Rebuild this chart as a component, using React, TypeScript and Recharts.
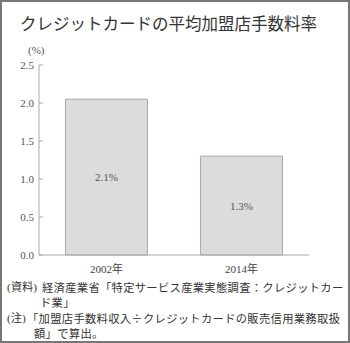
import { BarChart, Bar, XAxis, YAxis, LabelList } from 'recharts'

const years = ['2002年', '2014年']
const rates = [2.05, 1.3]
const rateLabels = ['2.1%', '1.3%']
const yTicks = [0, 0.5, 1.0, 1.5, 2.0, 2.5]

const data = years.map((year, i) => ({ year, rate: rates[i], label: rateLabels[i] }))

const serif = "'Liberation Serif', 'DejaVu Serif', 'Noto Sans CJK JP', serif"
const jpFont = "'Noto Sans CJK JP', sans-serif"

const noteLine = (top: number, left: number, text: string, prefix = false) => (
  <div
    style={{
      position: 'absolute',
      top,
      left,
      fontSize: 11.3,
      lineHeight: '12px',
      fontFamily: prefix ? serif : jpFont,
      letterSpacing: prefix ? 0 : 0.3,
      color: '#333',
      whiteSpace: 'nowrap',
    }}
  >
    {text}
  </div>
)

export default function App() {
  return (
    <div
      style={{
        position: 'absolute',
        top: 0,
        left: 0,
        width: 350,
        height: 343,
        boxSizing: 'border-box',
        border: '2px solid #777',
        background: '#fff',
        overflow: 'hidden',
      }}
    >
      <div
        style={{
          position: 'absolute',
          top: 11,
          left: 18,
          fontSize: 16.5,
          lineHeight: '20px',
          fontFamily: jpFont,
          color: '#333',
          whiteSpace: 'nowrap',
        }}
      >
        クレジットカードの平均加盟店手数料率
      </div>
      <div
        style={{
          position: 'absolute',
          top: 41,
          left: 26,
          fontSize: 11,
          lineHeight: '14px',
          fontFamily: serif,
          color: '#555',
        }}
      >
        (%)
      </div>
      <div style={{ position: 'absolute', top: -2, left: -2 }}>
        <BarChart
          width={350}
          height={290}
          data={data}
          margin={{ top: 65, right: 41, bottom: 5, left: 0 }}
          barCategoryGap="19.6%"
        >
          <XAxis
            dataKey="year"
            axisLine={{ stroke: '#aaa' }}
            tickLine={false}
            tickSize={0}
            tickMargin={10}
            tick={{ fill: '#444', fontSize: 11, fontFamily: serif }}
          />
          <YAxis
            width={39}
            domain={[0, 2.5]}
            ticks={yTicks}
            tickFormatter={(v: number) => v.toFixed(1)}
            axisLine={{ stroke: '#aaa' }}
            tickLine={{ stroke: '#aaa' }}
            tickSize={-4}
            tickMargin={9}
            tick={{ fill: '#555', fontSize: 11, fontFamily: serif }}
          />
          <Bar dataKey="rate" fill="#dcdcdc" stroke="#a8a8a8" strokeWidth={1} isAnimationActive={false}>
            <LabelList
              dataKey="label"
              position="center"
              fill="#555"
              style={{ fontSize: 11, fontFamily: serif }}
            />
          </Bar>
        </BarChart>
      </div>
      {noteLine(279, 5, '(資料)', true)}
      {noteLine(279, 40, '経済産業省「特定サービス産業実態調査：クレジットカー')}
      {noteLine(294, 38, 'ド業」')}
      {noteLine(310, 5, '(注)', true)}
      {noteLine(310, 25, '「加盟店手数料収入÷クレジットカードの販売信用業務取扱')}
      {noteLine(325, 32, '額」で算出。')}
    </div>
  )
}
